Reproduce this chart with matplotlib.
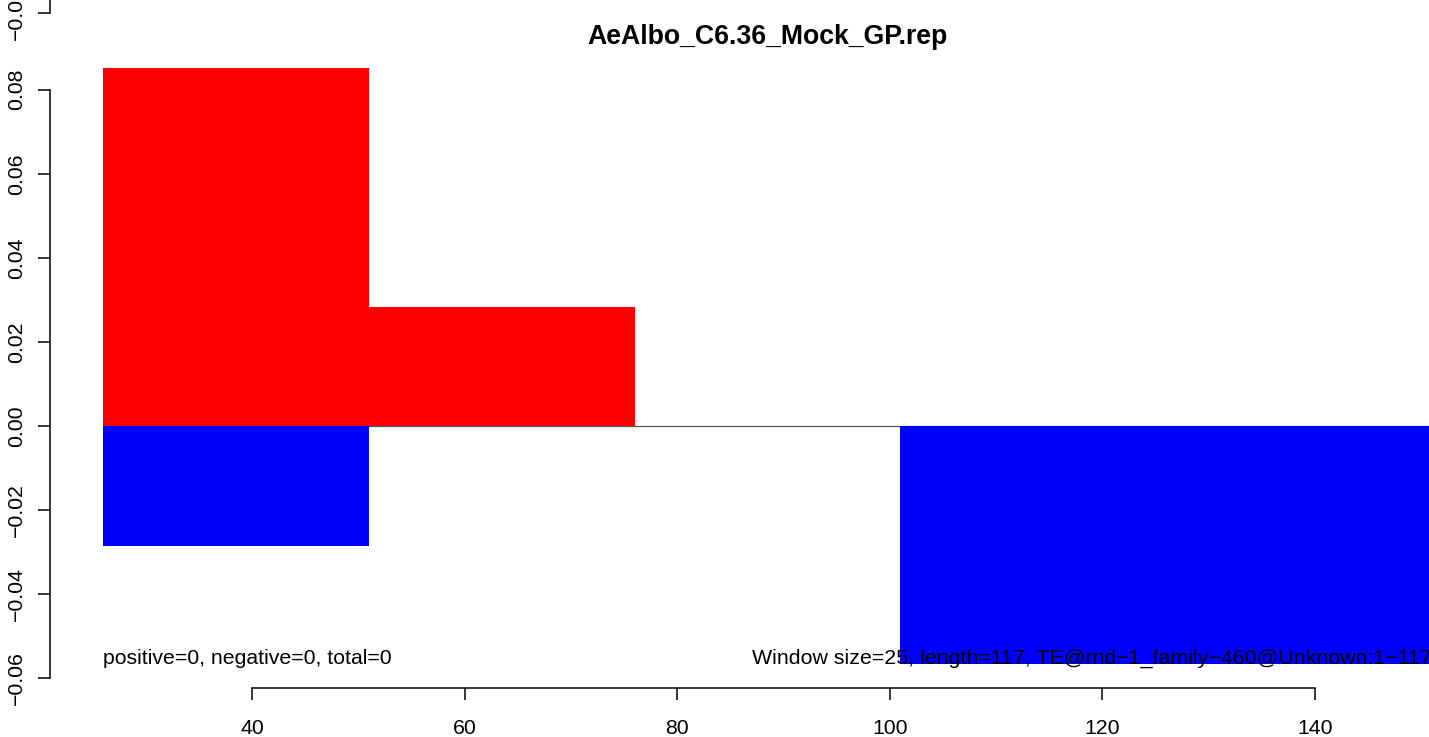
import numpy as np
import matplotlib
matplotlib.use('Agg')
import matplotlib.pyplot as plt

plt.rcParams['font.family'] = ['Liberation Sans', 'DejaVu Sans']

# window data (window size 25)
win_start = [26, 51, 76, 101, 126]
win_size = 25
pos_vals = [0.0852, 0.0284, 0.0, 0.0, 0.0]
neg_vals = [-0.0284, 0.0, 0.0, -0.0566, -0.0566]

title = 'AeAlbo_C6.36_Mock_GP.rep'
left_note = 'positive=0, negative=0, total=0'
right_note = 'Window size=25, length=117, TE@rnd\u22121_family\u2212460@Unknown:1\u2212117'
xticks = [40, 60, 80, 100, 120, 140]
yticks = [-0.06, -0.04, -0.02, 0.00, 0.02, 0.04, 0.06, 0.08]

W, H = 1429, 737
fig = plt.figure(figsize=(W / 100, H / 100), dpi=100)

# plot region in pixels (R style, runs off the right edge)
l, r, t, b = 50, 1485, 44, 688
ax = fig.add_axes([l / W, (H - b) / H, (r - l) / W, (b - t) / H])

x0 = np.array(win_start, dtype=float)
xmin, xmax = x0[0], x0[-1] + win_size
ymin, ymax = min(neg_vals), max(pos_vals)
padx = 0.04 * (xmax - xmin)
pady = 0.04 * (ymax - ymin)
ax.set_xlim(xmin - padx, xmax + padx)
ax.set_ylim(ymin - pady, ymax + pady)

ax.hlines(0, xmin, xmax, color='#555555', lw=0.9, zorder=1)
ax.bar(x0, pos_vals, width=win_size, align='edge', color='#FF0000', lw=0, zorder=2)
ax.bar(x0, neg_vals, width=win_size, align='edge', color='#0000FF', lw=0, zorder=2)

fs = 15.3
ax.text(xmin, ymin, left_note, ha='left', va='baseline', fontsize=fs, zorder=3)
ax.text(xmax, ymin, right_note, ha='right', va='baseline', fontsize=15.4, zorder=3)

# title, baseline sitting on the top of the plot region
ax.text(0.5, 1.0, title, transform=ax.transAxes, ha='center', va='baseline',
        fontsize=19.2, fontweight='bold')

for s in ['top', 'right']:
    ax.spines[s].set_visible(False)
ax.spines['left'].set_bounds(yticks[0], yticks[-1])
ax.spines['bottom'].set_bounds(xticks[0], xticks[-1])
for s in ['left', 'bottom']:
    ax.spines[s].set_linewidth(1.1)

ax.set_xticks(xticks)
ax.set_xticklabels([str(v) for v in xticks])
ax.set_yticks(yticks)
ax.set_yticklabels([f'{v:.2f}'.replace('-', '\u2212') for v in yticks],
                   rotation=90, va='center')
ax.tick_params(axis='both', direction='out', length=8.8, width=1.1, labelsize=fs)
ax.tick_params(axis='x', pad=13.5)
ax.tick_params(axis='y', pad=8.5)

# remnant of the panel above
ax2 = fig.add_axes([l / W, (H - 13) / H, (r - l) / W, 0.3])
ax2.set_ylim(-0.06, 0.1)
ax2.set_xlim(0, 1)
for s in ['top', 'right', 'bottom']:
    ax2.spines[s].set_visible(False)
ax2.spines['left'].set_linewidth(1.1)
ax2.set_xticks([])
ax2.set_yticks([-0.06])
ax2.set_yticklabels(['\u22120.06'], rotation=90, va='center')
ax2.tick_params(axis='y', direction='out', length=8.8, width=1.1, labelsize=fs, pad=8.5)
ax2.patch.set_alpha(0)

fig.savefig('out.png', dpi=100)
